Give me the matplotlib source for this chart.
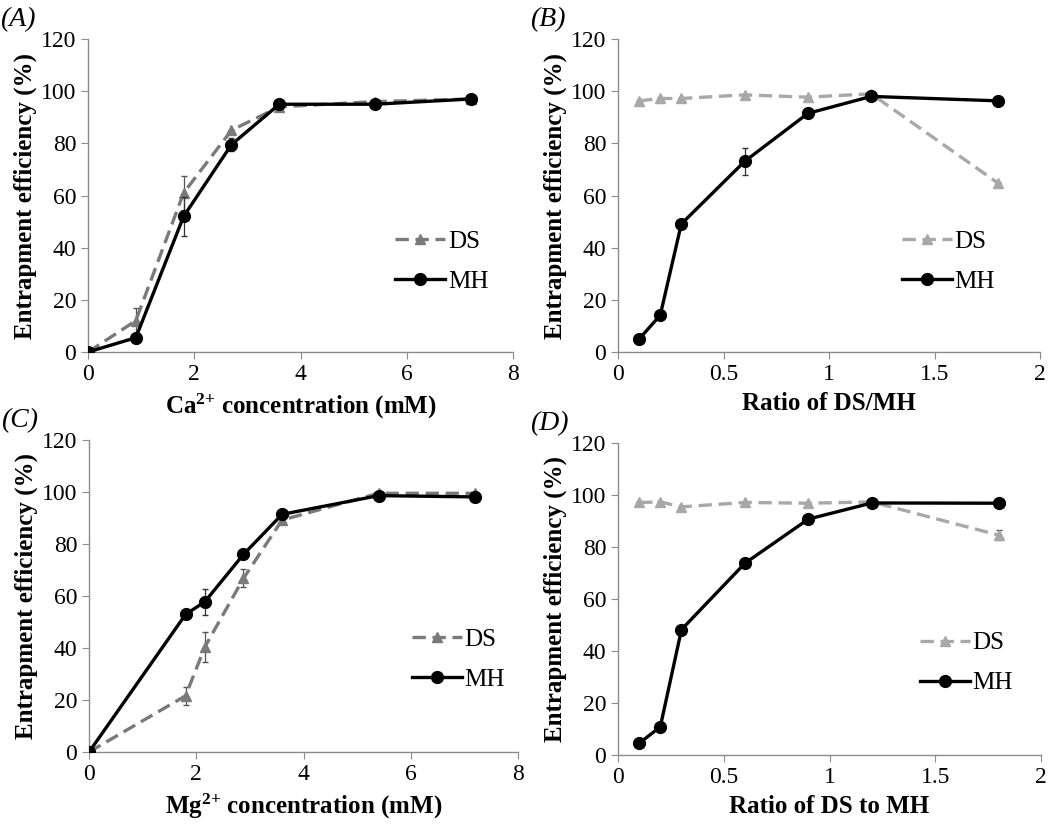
import numpy as np
import matplotlib
matplotlib.use("Agg")
import matplotlib.pyplot as plt

plt.rcParams['font.family'] = ['Liberation Serif', 'DejaVu Serif']
plt.rcParams['mathtext.fontset'] = 'custom'
plt.rcParams['mathtext.rm'] = 'Liberation Serif'
plt.rcParams['mathtext.bf'] = 'Liberation Serif:bold'
plt.rcParams['mathtext.it'] = 'Liberation Serif:italic'

# (A) Ca2+ concentration
ca_x = [0, 0.9, 1.8, 2.7, 3.6, 5.4, 7.2]
ca_ds = [0, 12, 61, 85, 94, 96, 97]
ca_ds_err = [0, 5, 6.5, 0, 0, 0, 0]
ca_mh = [0, 5.5, 52, 79.5, 95, 95, 97]
ca_mh_err = [0, 0, 7.5, 2.5, 0, 0, 0]

# (B) ratio DS/MH
rb_x = [0.1, 0.2, 0.3, 0.6, 0.9, 1.2, 1.8]
rb_ds = [96.3, 97.2, 97.2, 98.6, 97.7, 99, 64.8]
rb_ds_err = [0, 0, 0, 0, 0, 0, 0]
rb_mh = [5, 14.1, 49.1, 73.1, 91.5, 98, 96.3]
rb_mh_err = [0, 0, 0, 5.3, 0, 0, 0]

# (C) Mg2+ concentration
mg_x = [0, 1.8, 2.16, 2.88, 3.6, 5.4, 7.2]
mg_ds = [0, 21.6, 40.4, 66.8, 89.2, 99.5, 99.5]
mg_ds_err = [0, 3.4, 5.8, 3.5, 0, 0, 0]
mg_mh = [0, 52.9, 57.8, 76, 91.4, 98.6, 98.1]
mg_mh_err = [0, 0, 5, 0, 0, 0, 0]

# (D) ratio DS to MH
rd_x = [0.1, 0.2, 0.3, 0.6, 0.9, 1.2, 1.8]
rd_ds = [97.2, 97.4, 95.5, 97.2, 96.9, 97.4, 84.6]
rd_ds_err = [0, 0, 0, 0, 0, 0, 2]
rd_mh = [4.5, 10.9, 48.3, 73.8, 90.8, 97, 96.9]
rd_mh_err = [0, 0, 0, 0, 0, 0, 0]

fig = plt.figure(figsize=(10.5, 8.25), dpi=100)

panels = [
    # pos, x, ds, ds_err, mh, mh_err, xmax, xticks, xlabel, tag, ds colour, legend anchor
    ([0.0838, 0.5733, 0.4048, 0.3794], ca_x, ca_ds, ca_ds_err, ca_mh, ca_mh_err,
     8, [0, 2, 4, 6, 8], r'Ca$^{\mathbf{2{+}}}$ concentration (mM)', '(A)', '#7a7a7a', (0.67, 0.29)),
    ([0.5886, 0.5733, 0.4019, 0.3794], rb_x, rb_ds, rb_ds_err, rb_mh, rb_mh_err,
     2, [0, 0.5, 1, 1.5, 2], 'Ratio of DS/MH', '(B)', '#a8a8a8', (0.62, 0.29)),
    ([0.0848, 0.0885, 0.4086, 0.3782], mg_x, mg_ds, mg_ds_err, mg_mh, mg_mh_err,
     8, [0, 2, 4, 6, 8], r'Mg$^{\mathbf{2{+}}}$ concentration (mM)', '(C)', '#7a7a7a', (0.70, 0.295)),
    ([0.5886, 0.0848, 0.4029, 0.3780], rd_x, rd_ds, rd_ds_err, rd_mh, rd_mh_err,
     2, [0, 0.5, 1, 1.5, 2], 'Ratio of DS to MH', '(D)', '#a8a8a8', (0.66, 0.295)),
]

for pos, x, ds, ds_err, mh, mh_err, xmax, xticks, xlabel, tag, dscol, anchor in panels:
    ax = fig.add_axes(pos)
    ax.errorbar(x, ds, yerr=ds_err, color=dscol, ls='--', lw=2.4, dashes=(4, 2),
                marker='^', ms=7.5, capsize=2.5, elinewidth=0.9, ecolor='#555555',
                label='DS', zorder=2)
    ax.errorbar(x, mh, yerr=mh_err, color='black', ls='-', lw=2.4,
                marker='o', ms=8.5, capsize=2.5, elinewidth=0.9, ecolor='#333333',
                label='MH', zorder=3)
    ax.set_xlim(0, xmax)
    ax.set_ylim(0, 120)
    ax.set_xticks(xticks)
    ax.set_xticklabels([('%g' % t) for t in xticks])
    ax.set_yticks(range(0, 121, 20))
    for s in ['top', 'right']:
        ax.spines[s].set_visible(False)
    for s in ['left', 'bottom']:
        ax.spines[s].set_color('#8c8c8c')
        ax.spines[s].set_linewidth(1.0)
    ax.tick_params(axis='both', colors='#8c8c8c', labelcolor='black',
                   labelsize=17, length=5, direction='out')
    ax.set_xlabel(xlabel, fontsize=18, fontweight='bold', labelpad=5)
    ax.set_ylabel('Entrapment efficiency (%)', fontsize=18, fontweight='bold', labelpad=3)
    handles, labels = ax.get_legend_handles_labels()
    handles = [h[0] for h in handles]
    ax.legend(handles, labels, loc='center left', bbox_to_anchor=anchor, frameon=False,
              fontsize=18, handlelength=2.0, handletextpad=0.1, labelspacing=0.7)
    fig.text(pos[0] - 0.084, pos[1] + pos[3] + 0.008, tag, fontsize=20, style='italic',
             va='bottom', ha='left')

fig.savefig('out.png', dpi=100)
